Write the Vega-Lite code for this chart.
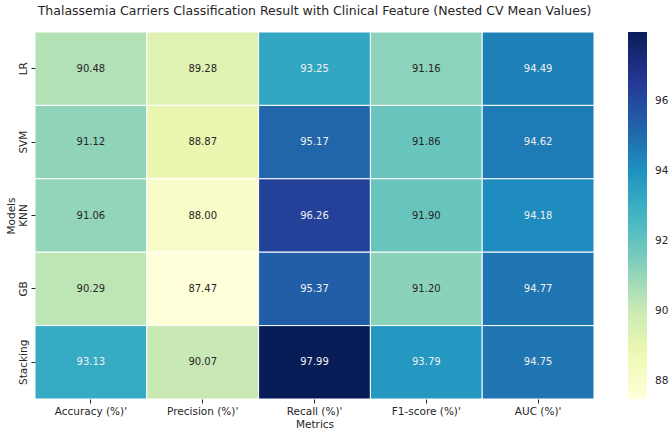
{
  "$schema": "https://vega.github.io/schema/vega-lite/v6.json",
  "width": 559,
  "height": 367,
  "autosize": {"type": "none"},
  "padding": {"left": 35, "top": 32, "right": 75, "bottom": 32},
  "background": "white",
  "config": {
    "font": "DejaVu Sans",
    "view": {"stroke": null},
    "axis": {"labelFont": "DejaVu Sans", "titleFont": "DejaVu Sans", "labelColor": "#262626", "titleColor": "#262626", "titleFontWeight": "normal", "labelFontSize": 10.5, "titleFontSize": 10.5, "tickColor": "#262626", "tickSize": 4, "domain": false, "grid": false}
  },
  "title": {"text": "Thalassemia Carriers Classification Result with Clinical Feature (Nested CV Mean Values)", "font": "DejaVu Sans", "fontSize": 12.5, "fontWeight": "normal", "color": "#262626", "anchor": "middle", "offset": 14},
  "data": {"values": [
    {"model": "LR", "metric": "Accuracy (%)'", "value": 90.48},
    {"model": "LR", "metric": "Precision (%)'", "value": 89.28},
    {"model": "LR", "metric": "Recall (%)'", "value": 93.25},
    {"model": "LR", "metric": "F1-score (%)'", "value": 91.16},
    {"model": "LR", "metric": "AUC (%)'", "value": 94.49},
    {"model": "SVM", "metric": "Accuracy (%)'", "value": 91.12},
    {"model": "SVM", "metric": "Precision (%)'", "value": 88.87},
    {"model": "SVM", "metric": "Recall (%)'", "value": 95.17},
    {"model": "SVM", "metric": "F1-score (%)'", "value": 91.86},
    {"model": "SVM", "metric": "AUC (%)'", "value": 94.62},
    {"model": "KNN", "metric": "Accuracy (%)'", "value": 91.06},
    {"model": "KNN", "metric": "Precision (%)'", "value": 88.00},
    {"model": "KNN", "metric": "Recall (%)'", "value": 96.26},
    {"model": "KNN", "metric": "F1-score (%)'", "value": 91.90},
    {"model": "KNN", "metric": "AUC (%)'", "value": 94.18},
    {"model": "GB", "metric": "Accuracy (%)'", "value": 90.29},
    {"model": "GB", "metric": "Precision (%)'", "value": 87.47},
    {"model": "GB", "metric": "Recall (%)'", "value": 95.37},
    {"model": "GB", "metric": "F1-score (%)'", "value": 91.20},
    {"model": "GB", "metric": "AUC (%)'", "value": 94.77},
    {"model": "Stacking", "metric": "Accuracy (%)'", "value": 93.13},
    {"model": "Stacking", "metric": "Precision (%)'", "value": 90.07},
    {"model": "Stacking", "metric": "Recall (%)'", "value": 97.99},
    {"model": "Stacking", "metric": "F1-score (%)'", "value": 93.79},
    {"model": "Stacking", "metric": "AUC (%)'", "value": 94.75}
  ]},
  "encoding": {
    "x": {"field": "metric", "type": "nominal", "sort": ["Accuracy (%)'", "Precision (%)'", "Recall (%)'", "F1-score (%)'", "AUC (%)'"], "scale": {"paddingInner": 0, "paddingOuter": 0}, "axis": {"title": "Metrics", "labelAngle": 0, "labelPadding": 3, "titlePadding": 3}},
    "y": {"field": "model", "type": "nominal", "sort": ["LR", "SVM", "KNN", "GB", "Stacking"], "scale": {"paddingInner": 0, "paddingOuter": 0}, "axis": {"title": "Models", "labelAngle": -90, "labelAlign": "center", "labelBaseline": "bottom", "labelPadding": 3, "titlePadding": 2}}
  },
  "layer": [
    {
      "mark": {"type": "rect", "stroke": "white", "strokeWidth": 1},
      "encoding": {
        "color": {"field": "value", "type": "quantitative",
          "scale": {"domain": [87.47, 88.785, 90.1, 91.415, 92.73, 94.045, 95.36, 96.675, 97.99], "range": ["#ffffd9", "#edf8b1", "#c7e9b4", "#7fcdbb", "#41b6c4", "#1d91c0", "#225ea8", "#253494", "#081d58"], "interpolate": "rgb"},
          "legend": {"title": null, "orient": "none", "legendX": 593, "legendY": 0, "direction": "vertical", "gradientLength": 367, "gradientThickness": 19, "gradientStrokeWidth": 0, "values": [88, 90, 92, 94, 96], "labelFontSize": 10.5, "labelColor": "#262626", "labelFont": "DejaVu Sans", "labelOffset": 8}}
      }
    },
    {
      "mark": {"type": "text", "fontSize": 10, "font": "DejaVu Sans"},
      "encoding": {
        "text": {"field": "value", "type": "quantitative", "format": ".2f"},
        "color": {"condition": {"test": "datum.value > 92.5", "value": "#f0f0f0"}, "value": "#262626"}
      }
    }
  ]
}
